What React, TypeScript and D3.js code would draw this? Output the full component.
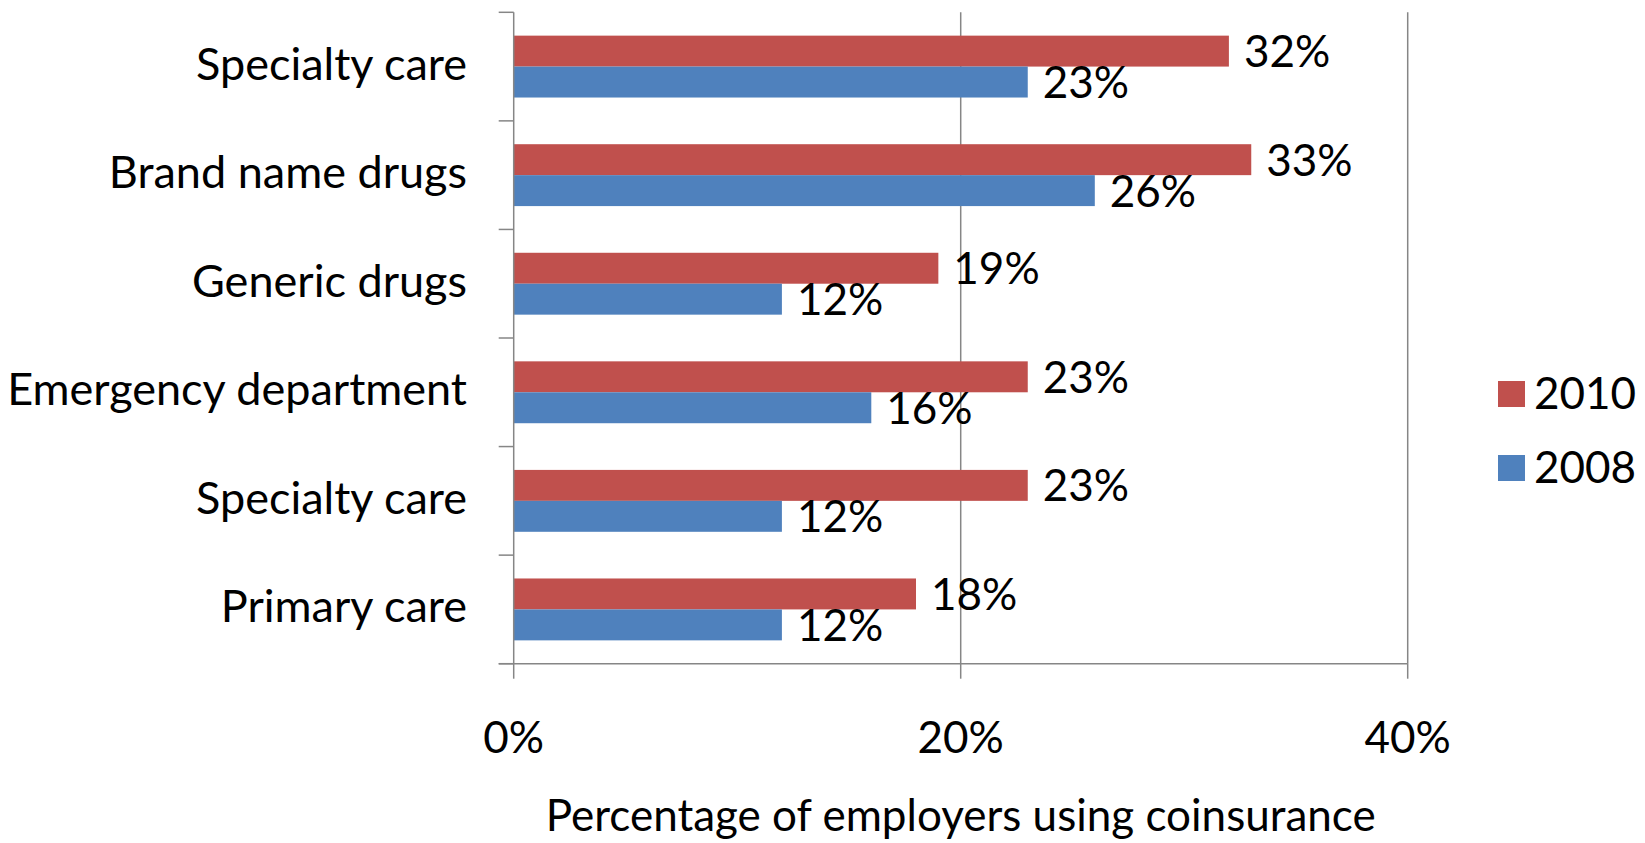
import React from "react";
import * as d3 from "d3";

const categories = [
  "Specialty care",
  "Brand name drugs",
  "Generic drugs",
  "Emergency department",
  "Specialty care",
  "Primary care",
];
const values2010 = [32, 33, 19, 23, 23, 18];
const values2008 = [23, 26, 12, 16, 12, 12];
const xTicks = [0, 20, 40];
const seriesNames = ["2010", "2008"];
const colors = ["#C0504D", "#4F81BD"];

const FONT = "Lato, 'Open Sans', sans-serif";
const FS = 44;

export default function App() {
  const left = 513.7;
  const right = 1407.7;
  const top = 12.3;
  const bottom = 663.7;
  const x = d3.scaleLinear().domain([0, 40]).range([left, right]);
  const y = d3
    .scaleBand<number>()
    .domain(categories.map((_, i) => i))
    .range([top, bottom])
    .paddingInner(0)
    .paddingOuter(0);
  const bw = y.bandwidth();
  const barH = bw * 0.285;
  const off = (bw - 2 * barH) / 2;
  const axisColor = "#868686";
  const boundaries = d3.range(categories.length + 1).map((i) => top + i * bw);

  return (
    <svg
      width={1645}
      height={843}
      style={{ position: "absolute", left: 0, top: 0, background: "#fff" }}
      fontFamily={FONT}
    >
      {/* gridlines */}
      {xTicks.slice(1).map((t) => (
        <line key={"g" + t} x1={x(t)} x2={x(t)} y1={top} y2={bottom} stroke={axisColor} strokeWidth={1.5} />
      ))}
      {/* bars */}
      {categories.map((c, i) => {
        const y0 = (y(i) as number) + off;
        return (
          <g key={"b" + i}>
            <rect x={x(0)} y={y0} width={x(values2010[i]) - x(0)} height={barH} fill={colors[0]} />
            <rect x={x(0)} y={y0 + barH} width={x(values2008[i]) - x(0)} height={barH} fill={colors[1]} />
            <text x={x(values2010[i]) + 15} y={y0 + barH / 2 - 1} dominantBaseline="central" fontSize={FS} fill="#000">
              {values2010[i] + "%"}
            </text>
            <text x={x(values2008[i]) + 15} y={y0 + barH * 1.5 - 1} dominantBaseline="central" fontSize={FS} fill="#000">
              {values2008[i] + "%"}
            </text>
            <text x={467} y={(y(i) as number) + bw / 2 - 4} dominantBaseline="central" textAnchor="end" fontSize={45} fill="#000">
              {c}
            </text>
          </g>
        );
      })}
      {/* axes */}
      <line x1={left} x2={left} y1={top} y2={bottom} stroke={axisColor} strokeWidth={1.5} />
      <line x1={left - 15} x2={right} y1={bottom} y2={bottom} stroke={axisColor} strokeWidth={1.5} />
      {boundaries.map((b, i) => (
        <line key={"t" + i} x1={left - 15} x2={left} y1={b} y2={b} stroke={axisColor} strokeWidth={1.5} />
      ))}
      {xTicks.map((t) => (
        <g key={"xt" + t}>
          <line x1={x(t)} x2={x(t)} y1={bottom} y2={bottom + 15} stroke={axisColor} strokeWidth={1.5} />
          <text x={x(t)} y={753} textAnchor="middle" fontSize={FS} fill="#000">
            {t + "%"}
          </text>
        </g>
      ))}
      <text x={(left + right) / 2} y={831} textAnchor="middle" fontSize={FS} fill="#000">
        Percentage of employers using coinsurance
      </text>
      {/* legend */}
      {seriesNames.map((s, i) => (
        <g key={"l" + s}>
          <rect x={1498} y={381 + i * 74} width={27} height={26} fill={colors[i]} />
          <text x={1534} y={409 + i * 73.5} fontSize={FS} fill="#000">
            {s}
          </text>
        </g>
      ))}
    </svg>
  );
}
